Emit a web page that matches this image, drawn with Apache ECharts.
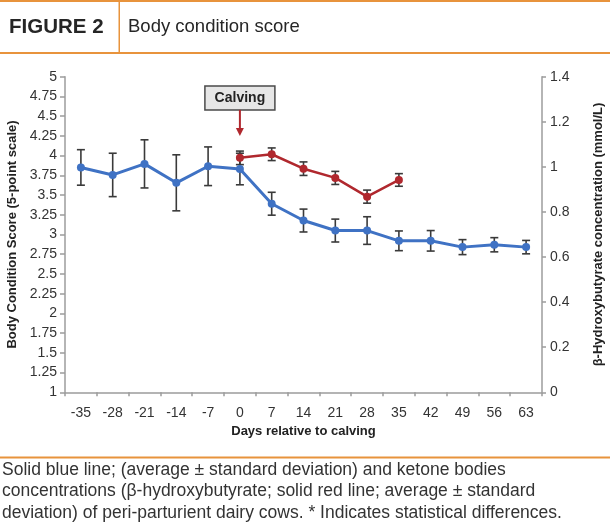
<!DOCTYPE html>
<html><head><meta charset="utf-8">
<script src="https://cdn.jsdelivr.net/npm/echarts@6/dist/echarts.min.js"></script>
<style>html,body{margin:0;padding:0;background:#fff}#c{width:610px;height:527px}</style>
</head><body><div id="c"></div>
<script>
// ---- data ----
const days = ['-35','-28','-21','-14','-7','0','7','14','21','28','35','42','49','56','63'];
const bcsMean = [3.85, 3.755, 3.895, 3.655, 3.865, 3.83, 3.39, 3.177, 3.05, 3.05, 2.92, 2.92, 2.84, 2.87, 2.84];
const bcsSd   = [0.225, 0.275, 0.305, 0.355, 0.245, 0.20, 0.145, 0.145, 0.145, 0.175, 0.125, 0.13, 0.095, 0.09, 0.085];
const bhbDays = ['0','7','14','21','28','35'];
const bhbMean = [1.04, 1.056, 0.992, 0.951, 0.868, 0.942];
const bhbSd   = [0.03, 0.028, 0.03, 0.029, 0.029, 0.028];
const leftAxis  = {min: 1, max: 5, interval: 0.25};
const rightAxis = {min: 0, max: 1.4, interval: 0.2};
const calvingDay = '0';
const calvingArrowTip = 4.25; // BCS units, where the arrow ends
const headerNumber = 'FIGURE 2';
const headerTitle = 'Body condition score';
const captionLines = [
  'Solid blue line; (average \u00b1 standard deviation) and ketone bodies',
  'concentrations (\u03b2-hydroxybutyrate; solid red line; average \u00b1 standard',
  'deviation) of peri-parturient dairy cows. * Indicates statistical differences.'
];

// ---- build ----
const FONT = "'Liberation Sans', Arial, sans-serif";
const ORANGE = '#e8933c';
const BLUE = '#3f72c4';
const RED = '#b0282e';
const AXIS = '#9c9c9c';

const bhbSeries = days.map(d => { const i = bhbDays.indexOf(d); return i < 0 ? '-' : bhbMean[i]; });
const bcsErr = days.map((d, i) => [i, bcsMean[i] - bcsSd[i], bcsMean[i] + bcsSd[i]]);
const bhbErr = bhbDays.map((d, j) => [days.indexOf(d), bhbMean[j] - bhbSd[j], bhbMean[j] + bhbSd[j]]);

function errRender(params, api) {
  const x = api.value(0);
  const lo = api.coord([x, api.value(1)]);
  const hi = api.coord([x, api.value(2)]);
  const w = 4;
  const style = {stroke: '#3a3a3a', lineWidth: 1.6, fill: null};
  return {type: 'group', children: [
    {type: 'line', shape: {x1: lo[0], y1: lo[1], x2: hi[0], y2: hi[1]}, style},
    {type: 'line', shape: {x1: lo[0] - w, y1: lo[1], x2: lo[0] + w, y2: lo[1]}, style},
    {type: 'line', shape: {x1: hi[0] - w, y1: hi[1], x2: hi[0] + w, y2: hi[1]}, style}
  ]};
}

function calvingRender(params, api) {
  const tip = api.coord([api.value(0), api.value(1)]);
  const cx = tip[0];
  const boxBottom = tip[1] - 26;
  const bh = 24, bw = 70;
  return {type: 'group', children: [
    {type: 'rect', shape: {x: cx - bw / 2, y: boxBottom - bh, width: bw, height: bh},
      style: {fill: '#e6e6e6', stroke: '#4a4a4a', lineWidth: 1.5}},
    {type: 'text', style: {text: 'Calving', x: cx, y: boxBottom - bh / 2, align: 'center', verticalAlign: 'middle',
      font: 'bold 14px ' + FONT, fill: '#222'}},
    {type: 'line', shape: {x1: cx, y1: boxBottom, x2: cx, y2: tip[1] - 6}, style: {stroke: RED, lineWidth: 2}},
    {type: 'polygon', shape: {points: [[cx - 4, tip[1] - 8], [cx + 4, tip[1] - 8], [cx, tip[1]]]}, style: {fill: RED}}
  ]};
}

const chart = echarts.init(document.getElementById('c'), null, {renderer: 'canvas'});
chart.setOption({
  animation: false,
  backgroundColor: '#fff',
  textStyle: {fontFamily: FONT},
  grid: {left: 65, right: 68, top: 76.7, bottom: 134.7, containLabel: false, outerBoundsMode: 'none'},
  graphic: [
    {type: 'rect', shape: {x: 0, y: 0, width: 610, height: 2}, style: {fill: ORANGE}},
    {type: 'rect', shape: {x: 0, y: 52, width: 610, height: 2}, style: {fill: ORANGE}},
    {type: 'rect', shape: {x: 118.5, y: 1, width: 1.5, height: 52}, style: {fill: ORANGE}},
    {type: 'text', left: 9, top: 17, style: {text: headerNumber, font: 'bold 20.5px ' + FONT, fill: '#262626'}},
    {type: 'text', left: 128, top: 17, style: {text: headerTitle, font: '18.5px ' + FONT, fill: '#262626'}},
    {type: 'rect', shape: {x: 0, y: 456.5, width: 610, height: 2}, style: {fill: ORANGE}},
    {type: 'text', left: 2, top: 459, style: {text: captionLines.join('\n'), font: '17.5px ' + FONT, fill: '#333', lineHeight: 21.5}}
  ],
  xAxis: {
    type: 'category', data: days, boundaryGap: true,
    name: 'Days relative to calving', nameLocation: 'middle', nameGap: 33,
    nameTextStyle: {fontFamily: FONT, fontWeight: 'bold', fontSize: 13, color: '#222'},
    axisLine: {lineStyle: {color: AXIS, width: 1.5}},
    axisTick: {show: true, length: 4, lineStyle: {color: AXIS, width: 1.5}},
    axisLabel: {color: '#333', fontSize: 14, margin: 14, interval: 0}
  },
  yAxis: [
    {type: 'value', min: leftAxis.min, max: leftAxis.max, interval: leftAxis.interval, position: 'left',
      name: 'Body Condition Score (5-point scale)', nameLocation: 'middle', nameGap: 45, nameRotate: 90,
      nameTextStyle: {fontFamily: FONT, fontWeight: 'bold', fontSize: 13, color: '#222'},
      axisLine: {show: true, lineStyle: {color: AXIS, width: 1.5}},
      axisTick: {show: true, length: 5, lineStyle: {color: AXIS, width: 1.5}},
      axisLabel: {color: '#333', fontSize: 14, margin: 8},
      splitLine: {show: false}},
    {type: 'value', min: rightAxis.min, max: rightAxis.max, interval: rightAxis.interval, position: 'right',
      name: '\u03b2-Hydroxybutyrate concentration (mmol/L)', nameLocation: 'middle', nameGap: 50, nameRotate: 90,
      nameTextStyle: {fontFamily: FONT, fontWeight: 'bold', fontSize: 13, color: '#222'},
      axisLine: {show: true, lineStyle: {color: AXIS, width: 1.5}},
      axisTick: {show: true, length: 4, lineStyle: {color: AXIS, width: 1.5}},
      axisLabel: {color: '#333', fontSize: 14, margin: 8},
      splitLine: {show: false}}
  ],
  series: [
    {type: 'custom', name: 'bcsErr', yAxisIndex: 0, data: bcsErr, renderItem: errRender, encode: {x: 0, y: [1, 2]}, z: 1, clip: false},
    {type: 'custom', name: 'bhbErr', yAxisIndex: 1, data: bhbErr, renderItem: errRender, encode: {x: 0, y: [1, 2]}, z: 1, clip: false},
    {type: 'line', name: 'BCS', yAxisIndex: 0, data: bcsMean, symbol: 'circle', symbolSize: 8,
      lineStyle: {color: BLUE, width: 3}, itemStyle: {color: BLUE}, z: 3},
    {type: 'line', name: 'BHB', yAxisIndex: 1, data: bhbSeries, symbol: 'circle', symbolSize: 8, connectNulls: false,
      lineStyle: {color: RED, width: 2.5}, itemStyle: {color: RED}, z: 3},
    {type: 'custom', name: 'calving', yAxisIndex: 0, data: [[days.indexOf(calvingDay), calvingArrowTip]],
      renderItem: calvingRender, encode: {x: 0, y: 1}, z: 5, clip: false}
  ]
});
</script>
</body></html>
